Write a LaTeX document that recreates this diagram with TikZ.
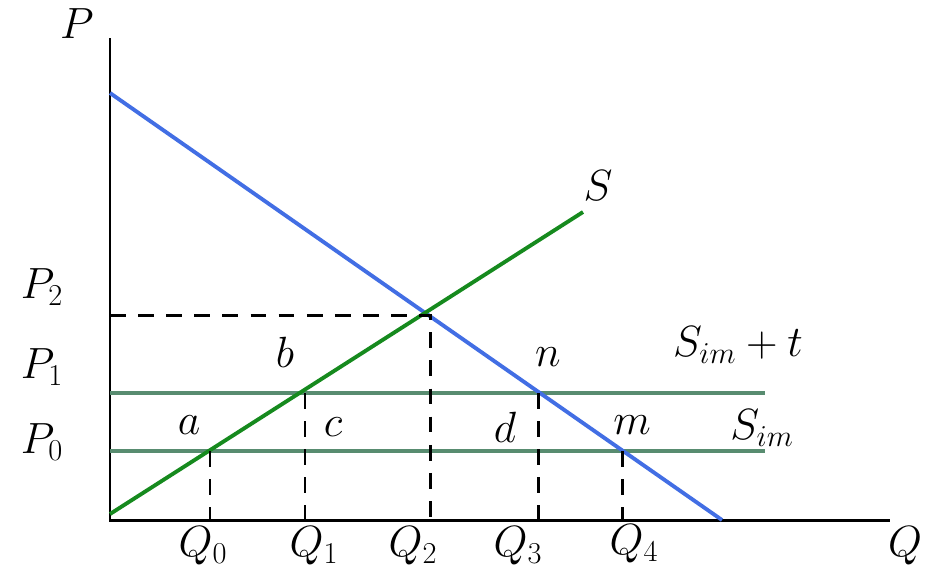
\documentclass[tikz,border=0pt]{standalone}
\usepackage{amsmath}
\usetikzlibrary{positioning}
\definecolor{demandblue}{RGB}{66,110,228}
\definecolor{supplygreen}{RGB}{22,138,30}
\definecolor{importgreen}{RGB}{88,140,112}

\begin{document}
\begin{tikzpicture}[
    x=0.02cm, y=-0.02cm,
    every node/.style={font=\fontsize{25}{30}\selectfont, inner sep=0pt},
    axis/.style={line width=1.7pt},
    demand/.style={demandblue, line width=2.2pt},
    supply/.style={supplygreen, line width=2.2pt},
    importline/.style={importgreen, line width=2.6pt},
    guide/.style={line width=1.7pt, dash pattern=on 9pt off 7pt}
]
\useasboundingbox (0,0) rectangle (925,583);

% --- Axes ---
\coordinate (O) at (110,520);
\draw[axis] (110,38) -- (O) -- (890,520);
\node (Plabel) at (77,24) {$P$};
\node (Qlabel) at (905,546) {$Q$};

% --- Import supply lines ---
\draw[importline] (110,393) -- (765,393);
\draw[importline] (110,451) -- (765,451);

% --- Demand and domestic supply ---
\draw[demand] (110,93) -- (722,520);
\draw[supply] (110,514) -- (583,212);

% --- Guides ---
\draw[guide] (110,315) -- (430,315) -- (430,520);
\draw[guide] (210,451) -- (210,520);
\draw[guide] (305,393) -- (305,520);
\draw[guide] (538,393) -- (538,520);
\draw[guide] (622,451) -- (622,520);

% --- Price labels ---
\node (P2) at (42,287) {$P_2$};
\node (P1) at (42,367) {$P_1$};
\node (P0) at (42,442) {$P_0$};

% --- Quantity labels ---
\node (Q0) at (203,546) {$Q_0$};
\node (Q1) at (314,546) {$Q_1$};
\node (Q2) at (413,546) {$Q_2$};
\node (Q3) at (518,546) {$Q_3$};
\node (Q4) at (634,544) {$Q_4$};

% --- Point and curve labels ---
\node (a) at (189,425) {$a$};
\node (b) at (285,352) {$b$};
\node (c) at (333,427) {$c$};
\node (d) at (505,427) {$d$};
\node (n) at (548,357) {$n$};
\node (m) at (632,425) {$m$};
\node (S) at (598,186) {$S$};
\node (Simt) at (738,345) {$S_{im}+t$};
\node (Sim) at (762,428) {$S_{im}$};

\end{tikzpicture}
\end{document}
